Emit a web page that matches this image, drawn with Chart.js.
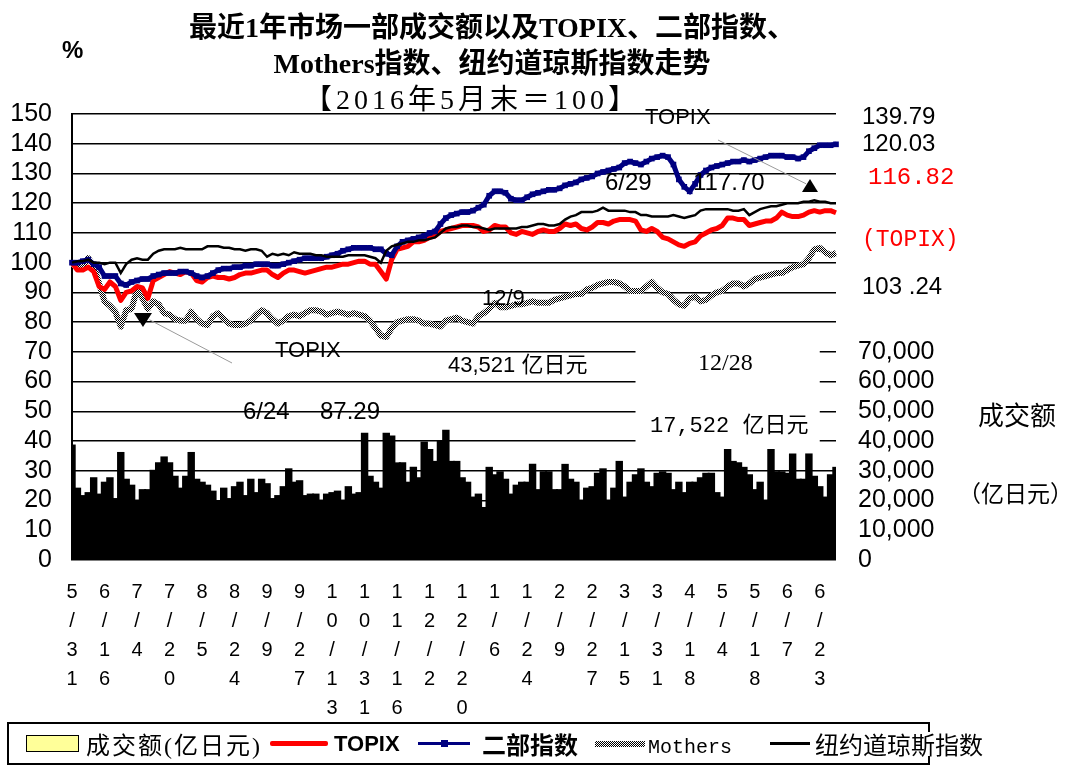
<!DOCTYPE html>
<html>
<head>
<meta charset="utf-8">
<script src="https://cdn.jsdelivr.net/npm/chart.js@4.4.1/dist/chart.umd.min.js"></script>
<style>
  body { margin: 0; background: #fff; }
  #wrap { position: relative; width: 1072px; height: 765px; overflow: hidden; }
  #c { position: absolute; left: 0; top: 0; }
  .t { position: absolute; white-space: pre; line-height: 1; color: #000; }
  .sans { font-family: "Liberation Sans", "Noto Sans CJK SC", sans-serif; }
  .serif { font-family: "Liberation Serif", "Noto Sans CJK SC", serif; }
  .mono { font-family: "Liberation Mono", "Noto Sans CJK SC", monospace; }
  .cjk { font-family: "Noto Sans CJK SC", sans-serif; }
  .red { color: #ff0000; }
  #legend { position: absolute; left: 7px; top: 722px; width: 919px; height: 39px; border: 2px solid #000; }
  .sw { position: absolute; }
</style>
</head>
<body>
<div id="wrap">
  <canvas id="c" width="1072" height="765"></canvas>

  <!-- title -->
  <div class="t serif" style="left:492px;top:14px;font-size:28px;font-weight:bold;transform:translateX(-50%)">最近1年市场一部成交额以及TOPIX、二部指数、</div>
  <div class="t serif" style="left:492px;top:50px;font-size:28px;font-weight:bold;transform:translateX(-50%)">Mothers指数、纽约道琼斯指数走势</div>
  <div class="t serif" style="left:472px;top:86px;font-size:28px;letter-spacing:4px;transform:translateX(-50%)">【2016年5月末＝100】</div>
  <div class="t sans" style="left:62px;top:38px;font-size:24px;font-weight:bold">%</div>

  <!-- right side values -->
  <div class="t sans" style="left:862px;top:104px;font-size:24px">139.79</div>
  <div class="t sans" style="left:862px;top:131px;font-size:24px">120.03</div>
  <div class="t mono red" style="left:868px;top:166px;font-size:24px">116.82</div>
  <div class="t mono red" style="left:862px;top:229px;font-size:23px">(TOPIX)</div>
  <div class="t sans" style="left:862px;top:274px;font-size:24px">103 .24</div>
  <div class="t cjk" style="left:978px;top:401px;font-size:26px">成交额</div>
  <div class="t cjk" style="left:958px;top:481px;font-size:23px">（亿日元）</div>

  <!-- notes inside the plot -->
  <div class="t sans" style="left:645px;top:106px;font-size:22px">TOPIX</div>
  <div class="t sans" style="left:605px;top:170px;font-size:24px">6/29</div>
  <div class="t sans" style="left:693px;top:170px;font-size:24px">117.70</div>
  <div class="t sans" style="left:275px;top:339px;font-size:22px">TOPIX</div>
  <div class="t sans" style="left:243px;top:399px;font-size:24px">6/24</div>
  <div class="t sans" style="left:320px;top:399px;font-size:24px">87.29</div>
  <div class="t sans" style="left:482px;top:287px;font-size:22px">12/9</div>
  <div class="t sans" style="left:448px;top:354px;font-size:22px">43,521 亿日元</div>
  <div class="t serif" style="left:698px;top:350px;font-size:24px">12/28</div>
  <div class="t mono" style="left:650px;top:416px;font-size:22px">17,522 亿日元</div>

  <!-- legend -->
  <div id="legend"></div>
  <div class="sw" style="left:26px;top:735px;width:51px;height:15px;background:#ffff99;border:1.5px solid #000"></div>
  <div class="t serif" style="left:86px;top:734px;font-size:24px;letter-spacing:2px">成交额(亿日元)</div>
  <div class="sw" style="left:270px;top:741px;width:58px;height:5px;background:#ff0000;border-radius:2px"></div>
  <div class="t sans" style="left:334px;top:733px;font-size:22px;font-weight:bold">TOPIX</div>
  <div class="sw" style="left:418px;top:742px;width:52px;height:3px;background:#000080"></div>
  <div class="sw" style="left:441px;top:740px;width:7px;height:7px;background:#000080"></div>
  <div class="t cjk" style="left:482px;top:732px;font-size:24px;font-weight:bold">二部指数</div>
  <div class="sw" style="left:595px;top:741px;width:50px;height:6px;background:repeating-conic-gradient(#000 0 25%, #fff 0 50%) 0 0/2px 2px"></div>
  <div class="t mono" style="left:648px;top:738px;font-size:20px">Mothers</div>
  <div class="sw" style="left:770px;top:742px;width:40px;height:3px;background:#000"></div>
  <div class="t cjk" style="left:815px;top:732px;font-size:24px;background:#fff">纽约道琼斯指数</div>
</div>

<script>
// tick labels, one every 6 points (each point ~ 2 trading days)
const tickLabels = ['5/31', '6/16', '7/4', '7/20', '8/5', '8/24', '9/9', '9/27', '10/13', '10/31', '11/16', '12/2',
  '12/20', '1/6', '1/24', '2/9', '2/27', '3/15', '3/31', '4/18', '5/4', '5/18', '6/7', '6/23'];

// 成交额 (亿日元)
const volume = [
  38500, 24000, 21500, 22500, 27500, 22000, 26000, 27500, 20500, 36000,
  27000, 25000, 20000, 23500, 23500, 30000, 32500, 34500, 32500, 28000,
  24000, 28000, 36000, 27000, 26000, 25000, 23000, 19500, 24000, 20500,
  24500, 26000, 21500, 27000, 22500, 27000, 25500, 20500, 21500, 24500,
  30500, 26000, 26500, 21500, 22000, 22000, 20000, 22000, 22500, 23000,
  20000, 24500, 22000, 22500, 42500, 28000, 26000, 24000, 42500, 41500,
  32500, 32500, 26000, 31000, 27500, 39500, 37000, 33000, 40000, 43500,
  33000, 33000, 27500, 26000, 21000, 22000, 17500, 31000, 28500, 29500,
  27000, 22000, 25000, 26000, 26000, 32000, 23500, 29500, 29500, 23500,
  23500, 32000, 27000, 26000, 20000, 24000, 24500, 29000, 30500, 20000,
  24000, 33000, 21000, 26000, 28500, 30500, 26000, 24500, 29000, 29500,
  29000, 23500, 26000, 22500, 26000, 26000, 27500, 29000, 29000, 22500,
  21000, 37000, 33000, 32500, 31000, 28500, 23500, 26000, 20000, 37000,
  29500, 29500, 29000, 35500, 27000, 27000, 35500, 28000, 24500, 21000,
  28500, 31000
];

const topix = [
  100, 97.5, 97.5, 98.5, 97, 92, 91, 93.5, 92, 87.3,
  90, 90.5, 92, 91.5, 88, 94, 95, 96, 97, 96.5,
  96, 97, 96.5, 94, 93.5, 95, 95.5, 95, 95, 94.5,
  95, 96, 96.5, 96.5, 97, 97.5, 97.5, 96, 95, 96.5,
  97.5, 97.5, 97, 96.5, 97, 97.5, 98, 98.5, 98.5, 99,
  99.5, 99.5, 100, 100.5, 100.5, 99.5, 99.5, 97, 94.5, 101,
  104.5, 105, 105.5, 107, 107, 107.5, 108.5, 109, 110.5, 111,
  111.5, 112, 112.5, 112.5, 112.5, 112, 110.5, 111, 112.5, 112,
  112, 110, 109.5, 110.5, 110, 109.5, 110.5, 111, 110.5, 110.5,
  111.5, 113, 112.5, 113, 111.5, 111, 112, 113.5, 113.5, 113,
  114, 114.5, 114.5, 114.5, 114, 111, 110.5, 111.5, 110.5, 108.5,
  108, 107, 106, 105.5, 106.5, 107, 109, 110, 111, 111.5,
  112.5, 115, 115, 114.5, 114.5, 112.5, 113, 113.5, 114, 114,
  115, 117, 116, 115.5, 115.5, 116, 117, 117.5, 117, 117.5,
  117.5, 116.8
];

const nibu = [
  100, 100, 100.5, 101, 99.5, 98.5, 95.5, 95.5, 95.5, 93,
  92.5, 93.5, 94, 94.5, 94.5, 95.5, 96, 96.5, 96.5, 96.5,
  97, 97, 96.5, 95.5, 95, 95.5, 96.5, 97.5, 98, 98,
  98.5, 98.5, 99, 99, 99.5, 99.5, 99.5, 99, 99, 99.5,
  100, 100.5, 101, 101.5, 101.5, 101.5, 101.5, 102, 102.5, 103,
  104, 104.5, 105, 105, 105, 105, 104.5, 104.5, 103, 102.5,
  105.5, 107, 107.5, 108, 108.5, 109, 110, 110.5, 113, 115,
  116, 116.5, 117, 117, 117.5, 118.5, 119.5, 122.5, 124, 124,
  123.5, 121.5, 121, 121, 122, 123, 123.5, 124, 124.5, 124.5,
  125, 126, 126.5, 127, 128, 128.5, 129, 130, 130.5, 131,
  131.5, 132, 133.5, 134, 133.5, 133, 134, 135, 135.5, 136,
  135.5, 133, 128, 125.5, 124, 126.5, 129.5, 131, 132, 132.5,
  133, 133.5, 134, 134, 134.5, 134, 134.5, 135, 135.5, 136,
  136, 136, 135.5, 135.5, 135, 135.5, 137.5, 138.5, 139.5, 139.5,
  139.5, 139.8
];

const mothers = [
  100, 98, 99, 101.5, 99, 93, 87, 85.5, 83.5, 78.5,
  84, 84.5, 91, 88, 84.5, 87, 86, 83, 82.5, 81,
  80.5, 80.5, 83.5, 81, 79.5, 79, 82, 83, 81, 79.5,
  79, 79, 79.5, 80.5, 82.5, 84, 83, 81, 79.5, 80.5,
  82, 82.5, 82, 83, 84, 84, 83.5, 82.5, 83, 83.5,
  83, 82.5, 83, 82.5, 82, 80.5, 78, 75.5, 75, 78,
  80, 80.5, 81, 81, 80.5, 79.5, 79.5, 79, 78.5, 80.5,
  81, 81.5, 80.5, 80, 79.5, 82, 83, 84.5, 86.5, 85,
  85, 85.5, 86, 86, 86.5, 87, 86.5, 86.5, 86.5, 87.5,
  88, 88.5, 89, 89.5, 89.5, 91, 91.5, 92.5, 93, 93.5,
  93.5, 93, 92, 90.5, 90.5, 90.5, 92, 93.5, 91.5, 90,
  89.5, 87.5, 86, 85.5, 88, 88.5, 87, 87.5, 89, 90,
  90.5, 92, 93, 93, 92, 93, 94.5, 95, 95.5, 96,
  96.5, 96.5, 97.5, 98.5, 99, 99.5, 101.5, 104.5, 105, 103.5,
  102.5, 103.2
];

const dow = [
  100, 100.5, 100.5, 101, 100, 100, 99.5, 100, 100, 96.5,
  99.5, 101, 101.5, 101, 101, 103, 104, 104.5, 104.5, 104.5,
  105, 104.5, 104.5, 104.5, 104.5, 105.5, 105.5, 105.5, 105, 105,
  104.5, 104.5, 104, 104.5, 104.5, 104, 102, 103, 102.5, 103,
  102.5, 103.5, 103, 103, 103, 102.5, 102.5, 102, 102, 102,
  102, 102.5, 102.5, 102.5, 102.5, 102, 101.5, 100, 104, 105.5,
  106, 106.5, 107, 107, 107.5, 107.5, 108, 108.5, 110, 111.5,
  112, 112, 112.5, 112.5, 112, 112, 111.5, 111, 111.5, 111.5,
  111.5, 111.5, 111.5, 112, 112, 112.5, 113, 113, 112.5, 112.5,
  113, 114.5, 115.5, 116, 117, 117, 117, 117.5, 118.5, 117.5,
  117.5, 117.5, 117.5, 117, 117, 116, 116, 115.5, 115.5, 115.5,
  115.5, 116, 115.5, 115, 115.5, 116, 117.5, 118, 118, 118,
  118, 118, 117.5, 117.5, 118, 116, 117, 118, 118.5, 119,
  119, 119.5, 120, 120, 120, 120.5, 120.5, 121, 120.5, 120.5,
  120, 120
];

const labels = volume.map((v, i) => (i % 6 === 0 && tickLabels[i / 6]) ? tickLabels[i / 6] : '');

const canvas = document.getElementById('c');
const ctx = canvas.getContext('2d');

// checker pattern for the Mothers line
const pc = document.createElement('canvas');
pc.width = 2; pc.height = 2;
const pctx = pc.getContext('2d');
pctx.fillStyle = '#fff';
pctx.fillRect(0, 0, 2, 2);
pctx.fillStyle = '#000';
pctx.fillRect(0, 0, 1, 1);
pctx.fillRect(1, 1, 1, 1);
const checker = ctx.createPattern(pc, 'repeat');

// white label box, arrows and leader lines
const notes = {
  id: 'notes',
  beforeDatasetsDraw(chart) {
    const x = chart.scales.x, y = chart.scales.y, c = chart.ctx;
    c.save();
    c.fillStyle = '#fff';
    const x0 = x.getPixelForValue(104), x1 = x.getPixelForValue(138);
    const y0 = y.getPixelForValue(73), y1 = y.getPixelForValue(38.3);
    c.fillRect(x0, y0, x1 - x0, y1 - y0);
    c.restore();
  },
  afterDraw(chart) {
    const x = chart.scales.x, y = chart.scales.y, c = chart.ctx;
    c.save();
    c.strokeStyle = '#9a9a9a';
    c.lineWidth = 1;
    c.beginPath();
    c.moveTo(718, 140); c.lineTo(x.getPixelForValue(135.5), y.getPixelForValue(126.5));
    c.moveTo(x.getPixelForValue(14.3), y.getPixelForValue(80.8)); c.lineTo(232, 363);
    c.stroke();
    c.fillStyle = '#000';
    // up arrow near TOPIX high
    let px = x.getPixelForValue(136.2), py = y.getPixelForValue(125.8);
    c.beginPath();
    c.moveTo(px, py - 7); c.lineTo(px + 8, py + 6); c.lineTo(px - 8, py + 6); c.closePath(); c.fill();
    // down arrow near TOPIX low
    px = x.getPixelForValue(13.1); py = y.getPixelForValue(80.7);
    c.beginPath();
    c.moveTo(px - 9, py - 7); c.lineTo(px + 9, py - 7); c.lineTo(px, py + 7); c.closePath(); c.fill();
    c.restore();
  }
};

const tickFont = { family: 'Liberation Sans', size: 25 };

new Chart(ctx, {
  type: 'bar',
  data: {
    labels: labels,
    datasets: [
      { type: 'line', label: '纽约道琼斯指数', data: dow, yAxisID: 'y', borderColor: '#000', borderWidth: 2.5,
        pointRadius: 0, tension: 0, order: 1 },
      { type: 'line', label: '二部指数', data: nibu, yAxisID: 'y', borderColor: '#000080', borderWidth: 5,
        pointStyle: 'rect', pointRadius: 4, pointBackgroundColor: '#000080', pointBorderWidth: 0,
        tension: 0, order: 2 },
      { type: 'line', label: 'TOPIX', data: topix, yAxisID: 'y', borderColor: '#ff0000', borderWidth: 5,
        borderJoinStyle: 'round', pointRadius: 0, tension: 0, order: 3 },
      { type: 'line', label: 'Mothers', data: mothers, yAxisID: 'y', borderColor: checker, borderWidth: 6,
        borderJoinStyle: 'round', pointRadius: 0, tension: 0, order: 4 },
      { type: 'bar', label: '成交额(亿日元)', data: volume, yAxisID: 'y2', backgroundColor: '#000',
        borderWidth: 0, barPercentage: 1, categoryPercentage: 1, inflateAmount: 1, order: 10 }
    ]
  },
  options: {
    responsive: false,
    animation: false,
    events: [],
    layout: { padding: { top: 114, left: 0, right: 0, bottom: 0 } },
    plugins: { legend: { display: false }, tooltip: { enabled: false }, title: { display: false } },
    scales: {
      x: {
        offset: false,
        grid: { display: false, drawTicks: false },
        border: { display: false },
        ticks: {
          autoSkip: false, maxRotation: 0, minRotation: 0, padding: 18, color: '#000',
          font: { family: 'Liberation Sans', size: 20, lineHeight: 1.45 },
          callback: function (v) {
            const s = this.getLabelForValue(v);
            return s ? s.split('') : '';
          }
        },
        afterFit: s => { s.height = 205; }
      },
      y: {
        position: 'left', min: 0, max: 150,
        grid: { color: '#000', lineWidth: 1.6, drawTicks: false },
        border: { display: true, color: '#000', width: 2 },
        ticks: { stepSize: 10, autoSkip: false, padding: 20, color: '#000', font: tickFont },
        afterFit: s => { s.width = 72; }
      },
      y2: {
        position: 'right', min: 0, max: 150000,
        grid: { display: false, drawTicks: false },
        border: { display: false },
        ticks: {
          stepSize: 10000, autoSkip: false, padding: 22, color: '#000', font: tickFont,
          callback: v => v <= 70000 ? v.toLocaleString('en-US') : ''
        },
        afterFit: s => { s.width = 236; }
      }
    }
  },
  plugins: [notes]
});
</script>
</body>
</html>
